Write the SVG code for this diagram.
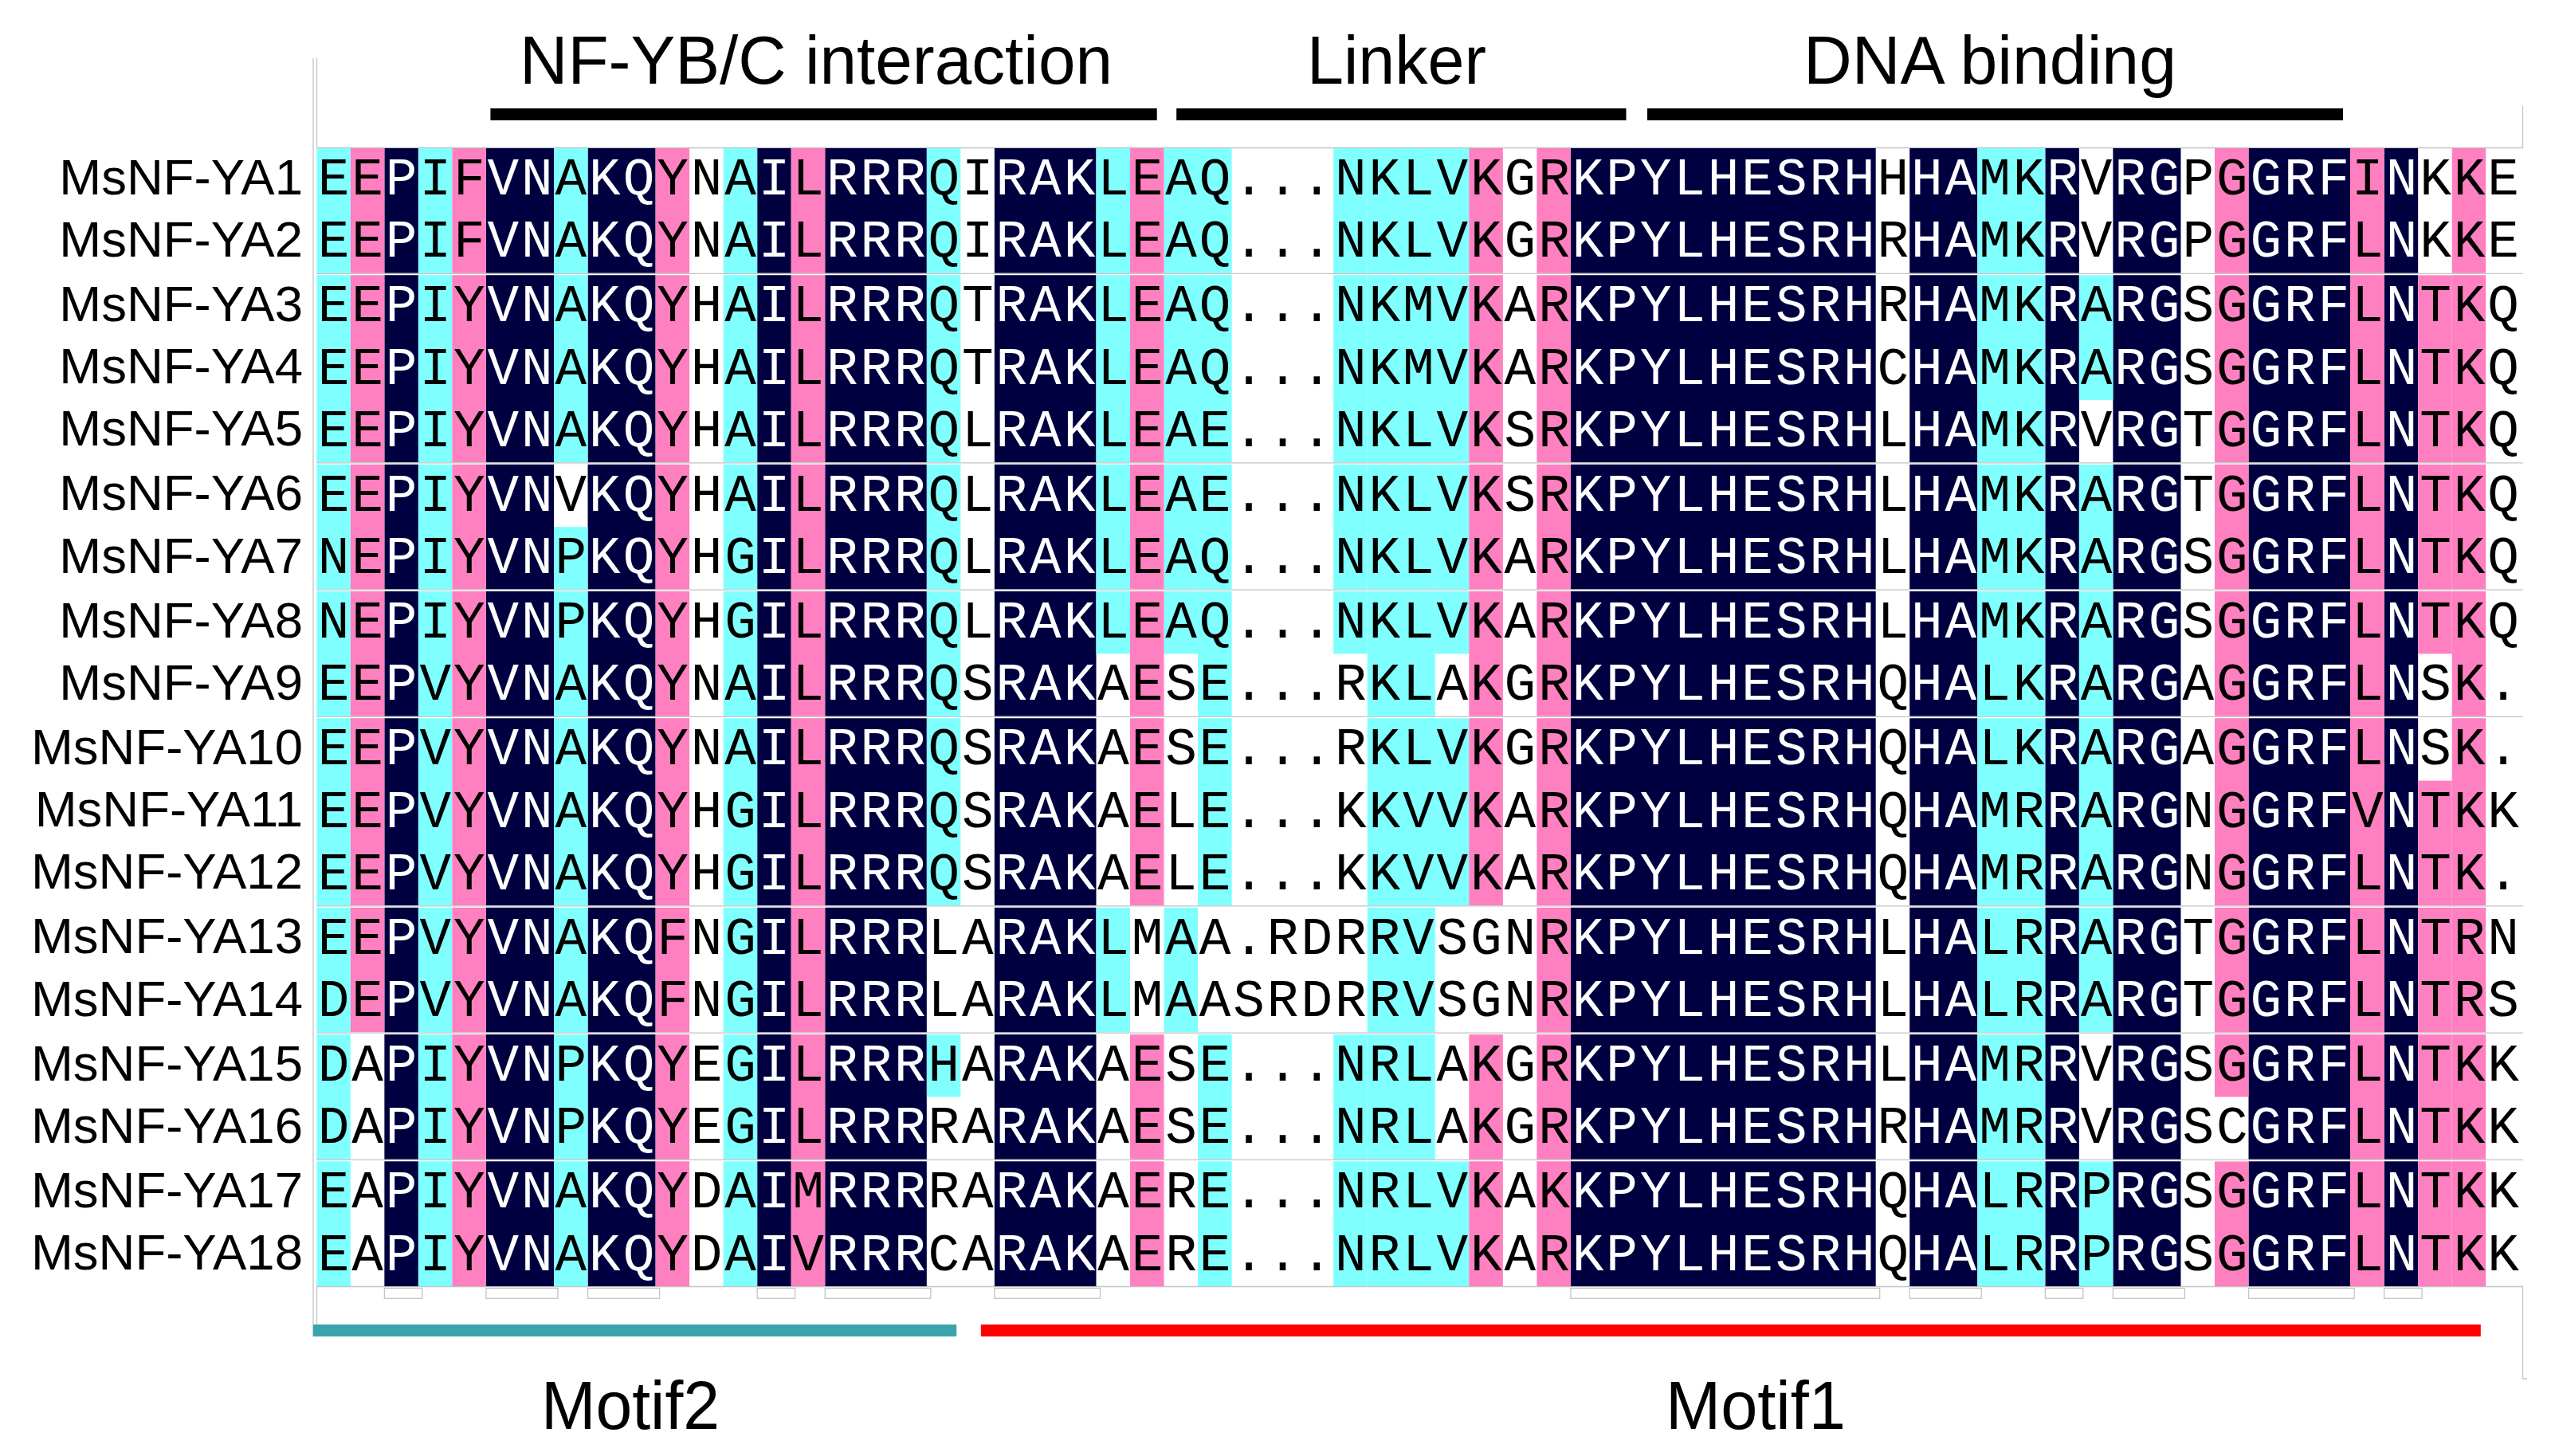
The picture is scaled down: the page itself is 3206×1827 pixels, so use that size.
<svg xmlns="http://www.w3.org/2000/svg" width="3206" height="1827" viewBox="0 0 3206 1827">
<style>
.n{fill:#000040}.c{fill:#80ffff}.p{fill:#ff80c0}
.seq{font-family:"Liberation Mono","DejaVu Sans Mono",monospace;font-size:66px;letter-spacing:2.93px;fill:#000}
.w{fill:#fff}
.name{font-family:"Liberation Sans",Arial,sans-serif;font-size:63.5px;text-anchor:end;fill:#000}
.title{font-family:"Liberation Sans",Arial,sans-serif;font-size:85px;fill:#000}
.gl{stroke:#c4c4c4;stroke-width:1.3;fill:none}
.box{fill:#fff;stroke:#c4c4c4;stroke-width:1.3}
</style>
<rect width="3206" height="1827" fill="#fff"/>
<g id="frame">
<path class="gl" d="M393 73V1662M397.5 73V186M397.5 1614V1662M3165.5 133V186M3165.5 1614V1730H3171"/>
<path class="gl" d="M397 185.5H3166M397 1614.5H3166"/>
</g>
<g id="headers">
<text class="title" x="652" y="104.5" textLength="744" lengthAdjust="spacingAndGlyphs">NF-YB/C interaction</text>
<text class="title" x="1640" y="104.5" textLength="225" lengthAdjust="spacingAndGlyphs">Linker</text>
<text class="title" x="2263" y="104.5" textLength="468" lengthAdjust="spacingAndGlyphs">DNA binding</text>
<rect x="615.4" y="136" width="836.3" height="15" fill="#000"/>
<rect x="1476.2" y="136" width="564.3" height="15" fill="#000"/>
<rect x="2067" y="136" width="873" height="15" fill="#000"/>
</g>
<g id="cells">
<rect class="n" x="482.36" y="186" width="42.53" height="1428"/>
<rect class="n" x="609.95" y="186" width="85.06" height="1428"/>
<rect class="n" x="737.54" y="186" width="85.06" height="1428"/>
<rect class="n" x="950.19" y="186" width="42.53" height="1428"/>
<rect class="n" x="1035.25" y="186" width="127.59" height="1428"/>
<rect class="n" x="1247.9" y="186" width="127.59" height="1428"/>
<rect class="n" x="1970.91" y="186" width="382.77" height="1428"/>
<rect class="n" x="2396.21" y="186" width="85.06" height="1428"/>
<rect class="n" x="2566.33" y="186" width="42.53" height="1428"/>
<rect class="n" x="2651.39" y="186" width="85.06" height="1428"/>
<rect class="n" x="2821.51" y="186" width="127.59" height="1428"/>
<rect class="n" x="2991.63" y="186" width="42.53" height="1428"/>
<rect class="c" x="397.3" y="186" width="42.53" height="1428"/>
<rect class="c" x="524.89" y="186" width="42.53" height="1428"/>
<rect class="c" x="907.66" y="186" width="42.53" height="1428"/>
<rect class="c" x="1715.73" y="186" width="85.06" height="1428"/>
<rect class="c" x="2481.27" y="186" width="85.06" height="1428"/>
<rect class="c" x="695.01" y="186" width="42.53" height="396.8"/>
<rect class="c" x="695.01" y="661.16" width="42.53" height="952.84"/>
<rect class="c" x="1162.84" y="186" width="42.53" height="950.32"/>
<rect class="c" x="1162.84" y="1298.04" width="42.53" height="78.36"/>
<rect class="c" x="1375.49" y="186" width="42.53" height="634.38"/>
<rect class="c" x="1375.49" y="1138.82" width="42.53" height="156.72"/>
<rect class="c" x="1460.55" y="186" width="42.53" height="634.38"/>
<rect class="c" x="1460.55" y="1138.82" width="42.53" height="156.72"/>
<rect class="c" x="1503.08" y="186" width="42.53" height="950.32"/>
<rect class="c" x="1503.08" y="1298.04" width="42.53" height="315.96"/>
<rect class="c" x="1673.2" y="186" width="42.53" height="634.38"/>
<rect class="c" x="1673.2" y="1298.04" width="42.53" height="315.96"/>
<rect class="c" x="1800.79" y="186" width="42.53" height="634.38"/>
<rect class="c" x="1800.79" y="901.24" width="42.53" height="235.08"/>
<rect class="c" x="1800.79" y="1457.26" width="42.53" height="156.74"/>
<rect class="c" x="2608.86" y="345.22" width="42.53" height="156.72"/>
<rect class="c" x="2608.86" y="582.8" width="42.53" height="712.74"/>
<rect class="c" x="2608.86" y="1457.26" width="42.53" height="156.74"/>
<rect class="p" x="439.83" y="186" width="42.53" height="1109.54"/>
<rect class="p" x="567.42" y="186" width="42.53" height="1428"/>
<rect class="p" x="822.6" y="186" width="42.53" height="1428"/>
<rect class="p" x="992.72" y="186" width="42.53" height="1428"/>
<rect class="p" x="1418.02" y="186" width="42.53" height="950.32"/>
<rect class="p" x="1418.02" y="1298.04" width="42.53" height="315.96"/>
<rect class="p" x="1843.32" y="186" width="42.53" height="950.32"/>
<rect class="p" x="1843.32" y="1298.04" width="42.53" height="315.96"/>
<rect class="p" x="1928.38" y="186" width="42.53" height="1428"/>
<rect class="p" x="2778.98" y="186" width="42.53" height="1190.4"/>
<rect class="p" x="2778.98" y="1457.26" width="42.53" height="156.74"/>
<rect class="p" x="2949.1" y="186" width="42.53" height="1428"/>
<rect class="p" x="3034.16" y="345.22" width="42.53" height="475.16"/>
<rect class="p" x="3034.16" y="979.6" width="42.53" height="634.4"/>
<rect class="p" x="3076.69" y="186" width="42.53" height="1428"/>
</g>
<g id="separators">
<rect x="397" y="342.72" width="2769" height="2.5" fill="#fff"/>
<rect x="397" y="580.3" width="2769" height="2.5" fill="#fff"/>
<rect x="397" y="739.52" width="2769" height="2.5" fill="#fff"/>
<rect x="397" y="898.74" width="2769" height="2.5" fill="#fff"/>
<rect x="397" y="1136.32" width="2769" height="2.5" fill="#fff"/>
<rect x="397" y="1295.54" width="2769" height="2.5" fill="#fff"/>
<rect x="397" y="1454.76" width="2769" height="2.5" fill="#fff"/>
<path class="gl" d="M397 343.3H3166M397 580.9H3166M397 740.1H3166M397 899.3H3166M397 1136.9H3166M397 1296.1H3166M397 1455.3H3166"/>
</g>
<g id="names">
<text class="name" x="380" y="243.5">MsNF-YA1</text>
<text class="name" x="380" y="321.86">MsNF-YA2</text>
<text class="name" x="380" y="402.72">MsNF-YA3</text>
<text class="name" x="380" y="481.08">MsNF-YA4</text>
<text class="name" x="380" y="559.44">MsNF-YA5</text>
<text class="name" x="380" y="640.3">MsNF-YA6</text>
<text class="name" x="380" y="718.66">MsNF-YA7</text>
<text class="name" x="380" y="799.52">MsNF-YA8</text>
<text class="name" x="380" y="877.88">MsNF-YA9</text>
<text class="name" x="380" y="958.74">MsNF-YA10</text>
<text class="name" x="380" y="1037.1">MsNF-YA11</text>
<text class="name" x="380" y="1115.46">MsNF-YA12</text>
<text class="name" x="380" y="1196.32">MsNF-YA13</text>
<text class="name" x="380" y="1274.68">MsNF-YA14</text>
<text class="name" x="380" y="1355.54">MsNF-YA15</text>
<text class="name" x="380" y="1433.9">MsNF-YA16</text>
<text class="name" x="380" y="1514.76">MsNF-YA17</text>
<text class="name" x="380" y="1593.12">MsNF-YA18</text>
</g>
<g id="sequences">
<text class="seq" x="398.77" y="244">EE<tspan class="w">P</tspan>IF<tspan class="w">VN</tspan>A<tspan class="w">KQ</tspan>YNA<tspan class="w">I</tspan>L<tspan class="w">RRR</tspan>QI<tspan class="w">RAK</tspan>LEAQ...NKLVKGR<tspan class="w">KPYLHESRH</tspan>H<tspan class="w">HA</tspan>MK<tspan class="w">R</tspan>V<tspan class="w">RG</tspan>PG<tspan class="w">GRF</tspan>I<tspan class="w">N</tspan>KKE</text>
<text class="seq" x="398.77" y="322.36">EE<tspan class="w">P</tspan>IF<tspan class="w">VN</tspan>A<tspan class="w">KQ</tspan>YNA<tspan class="w">I</tspan>L<tspan class="w">RRR</tspan>QI<tspan class="w">RAK</tspan>LEAQ...NKLVKGR<tspan class="w">KPYLHESRH</tspan>R<tspan class="w">HA</tspan>MK<tspan class="w">R</tspan>V<tspan class="w">RG</tspan>PG<tspan class="w">GRF</tspan>L<tspan class="w">N</tspan>KKE</text>
<text class="seq" x="398.77" y="403.22">EE<tspan class="w">P</tspan>IY<tspan class="w">VN</tspan>A<tspan class="w">KQ</tspan>YHA<tspan class="w">I</tspan>L<tspan class="w">RRR</tspan>QT<tspan class="w">RAK</tspan>LEAQ...NKMVKAR<tspan class="w">KPYLHESRH</tspan>R<tspan class="w">HA</tspan>MK<tspan class="w">R</tspan>A<tspan class="w">RG</tspan>SG<tspan class="w">GRF</tspan>L<tspan class="w">N</tspan>TKQ</text>
<text class="seq" x="398.77" y="481.58">EE<tspan class="w">P</tspan>IY<tspan class="w">VN</tspan>A<tspan class="w">KQ</tspan>YHA<tspan class="w">I</tspan>L<tspan class="w">RRR</tspan>QT<tspan class="w">RAK</tspan>LEAQ...NKMVKAR<tspan class="w">KPYLHESRH</tspan>C<tspan class="w">HA</tspan>MK<tspan class="w">R</tspan>A<tspan class="w">RG</tspan>SG<tspan class="w">GRF</tspan>L<tspan class="w">N</tspan>TKQ</text>
<text class="seq" x="398.77" y="559.94">EE<tspan class="w">P</tspan>IY<tspan class="w">VN</tspan>A<tspan class="w">KQ</tspan>YHA<tspan class="w">I</tspan>L<tspan class="w">RRR</tspan>QL<tspan class="w">RAK</tspan>LEAE...NKLVKSR<tspan class="w">KPYLHESRH</tspan>L<tspan class="w">HA</tspan>MK<tspan class="w">R</tspan>V<tspan class="w">RG</tspan>TG<tspan class="w">GRF</tspan>L<tspan class="w">N</tspan>TKQ</text>
<text class="seq" x="398.77" y="640.8">EE<tspan class="w">P</tspan>IY<tspan class="w">VN</tspan>V<tspan class="w">KQ</tspan>YHA<tspan class="w">I</tspan>L<tspan class="w">RRR</tspan>QL<tspan class="w">RAK</tspan>LEAE...NKLVKSR<tspan class="w">KPYLHESRH</tspan>L<tspan class="w">HA</tspan>MK<tspan class="w">R</tspan>A<tspan class="w">RG</tspan>TG<tspan class="w">GRF</tspan>L<tspan class="w">N</tspan>TKQ</text>
<text class="seq" x="398.77" y="719.16">NE<tspan class="w">P</tspan>IY<tspan class="w">VN</tspan>P<tspan class="w">KQ</tspan>YHG<tspan class="w">I</tspan>L<tspan class="w">RRR</tspan>QL<tspan class="w">RAK</tspan>LEAQ...NKLVKAR<tspan class="w">KPYLHESRH</tspan>L<tspan class="w">HA</tspan>MK<tspan class="w">R</tspan>A<tspan class="w">RG</tspan>SG<tspan class="w">GRF</tspan>L<tspan class="w">N</tspan>TKQ</text>
<text class="seq" x="398.77" y="800.02">NE<tspan class="w">P</tspan>IY<tspan class="w">VN</tspan>P<tspan class="w">KQ</tspan>YHG<tspan class="w">I</tspan>L<tspan class="w">RRR</tspan>QL<tspan class="w">RAK</tspan>LEAQ...NKLVKAR<tspan class="w">KPYLHESRH</tspan>L<tspan class="w">HA</tspan>MK<tspan class="w">R</tspan>A<tspan class="w">RG</tspan>SG<tspan class="w">GRF</tspan>L<tspan class="w">N</tspan>TKQ</text>
<text class="seq" x="398.77" y="878.38">EE<tspan class="w">P</tspan>VY<tspan class="w">VN</tspan>A<tspan class="w">KQ</tspan>YNA<tspan class="w">I</tspan>L<tspan class="w">RRR</tspan>QS<tspan class="w">RAK</tspan>AESE...RKLAKGR<tspan class="w">KPYLHESRH</tspan>Q<tspan class="w">HA</tspan>LK<tspan class="w">R</tspan>A<tspan class="w">RG</tspan>AG<tspan class="w">GRF</tspan>L<tspan class="w">N</tspan>SK.</text>
<text class="seq" x="398.77" y="959.24">EE<tspan class="w">P</tspan>VY<tspan class="w">VN</tspan>A<tspan class="w">KQ</tspan>YNA<tspan class="w">I</tspan>L<tspan class="w">RRR</tspan>QS<tspan class="w">RAK</tspan>AESE...RKLVKGR<tspan class="w">KPYLHESRH</tspan>Q<tspan class="w">HA</tspan>LK<tspan class="w">R</tspan>A<tspan class="w">RG</tspan>AG<tspan class="w">GRF</tspan>L<tspan class="w">N</tspan>SK.</text>
<text class="seq" x="398.77" y="1037.6">EE<tspan class="w">P</tspan>VY<tspan class="w">VN</tspan>A<tspan class="w">KQ</tspan>YHG<tspan class="w">I</tspan>L<tspan class="w">RRR</tspan>QS<tspan class="w">RAK</tspan>AELE...KKVVKAR<tspan class="w">KPYLHESRH</tspan>Q<tspan class="w">HA</tspan>MR<tspan class="w">R</tspan>A<tspan class="w">RG</tspan>NG<tspan class="w">GRF</tspan>V<tspan class="w">N</tspan>TKK</text>
<text class="seq" x="398.77" y="1115.96">EE<tspan class="w">P</tspan>VY<tspan class="w">VN</tspan>A<tspan class="w">KQ</tspan>YHG<tspan class="w">I</tspan>L<tspan class="w">RRR</tspan>QS<tspan class="w">RAK</tspan>AELE...KKVVKAR<tspan class="w">KPYLHESRH</tspan>Q<tspan class="w">HA</tspan>MR<tspan class="w">R</tspan>A<tspan class="w">RG</tspan>NG<tspan class="w">GRF</tspan>L<tspan class="w">N</tspan>TK.</text>
<text class="seq" x="398.77" y="1196.82">EE<tspan class="w">P</tspan>VY<tspan class="w">VN</tspan>A<tspan class="w">KQ</tspan>FNG<tspan class="w">I</tspan>L<tspan class="w">RRR</tspan>LA<tspan class="w">RAK</tspan>LMAA.RDRRVSGNR<tspan class="w">KPYLHESRH</tspan>L<tspan class="w">HA</tspan>LR<tspan class="w">R</tspan>A<tspan class="w">RG</tspan>TG<tspan class="w">GRF</tspan>L<tspan class="w">N</tspan>TRN</text>
<text class="seq" x="398.77" y="1275.18">DE<tspan class="w">P</tspan>VY<tspan class="w">VN</tspan>A<tspan class="w">KQ</tspan>FNG<tspan class="w">I</tspan>L<tspan class="w">RRR</tspan>LA<tspan class="w">RAK</tspan>LMAASRDRRVSGNR<tspan class="w">KPYLHESRH</tspan>L<tspan class="w">HA</tspan>LR<tspan class="w">R</tspan>A<tspan class="w">RG</tspan>TG<tspan class="w">GRF</tspan>L<tspan class="w">N</tspan>TRS</text>
<text class="seq" x="398.77" y="1356.04">DA<tspan class="w">P</tspan>IY<tspan class="w">VN</tspan>P<tspan class="w">KQ</tspan>YEG<tspan class="w">I</tspan>L<tspan class="w">RRR</tspan>HA<tspan class="w">RAK</tspan>AESE...NRLAKGR<tspan class="w">KPYLHESRH</tspan>L<tspan class="w">HA</tspan>MR<tspan class="w">R</tspan>V<tspan class="w">RG</tspan>SG<tspan class="w">GRF</tspan>L<tspan class="w">N</tspan>TKK</text>
<text class="seq" x="398.77" y="1434.4">DA<tspan class="w">P</tspan>IY<tspan class="w">VN</tspan>P<tspan class="w">KQ</tspan>YEG<tspan class="w">I</tspan>L<tspan class="w">RRR</tspan>RA<tspan class="w">RAK</tspan>AESE...NRLAKGR<tspan class="w">KPYLHESRH</tspan>R<tspan class="w">HA</tspan>MR<tspan class="w">R</tspan>V<tspan class="w">RG</tspan>SC<tspan class="w">GRF</tspan>L<tspan class="w">N</tspan>TKK</text>
<text class="seq" x="398.77" y="1515.26">EA<tspan class="w">P</tspan>IY<tspan class="w">VN</tspan>A<tspan class="w">KQ</tspan>YDA<tspan class="w">I</tspan>M<tspan class="w">RRR</tspan>RA<tspan class="w">RAK</tspan>AERE...NRLVKAK<tspan class="w">KPYLHESRH</tspan>Q<tspan class="w">HA</tspan>LR<tspan class="w">R</tspan>P<tspan class="w">RG</tspan>SG<tspan class="w">GRF</tspan>L<tspan class="w">N</tspan>TKK</text>
<text class="seq" x="398.77" y="1593.62">EA<tspan class="w">P</tspan>IY<tspan class="w">VN</tspan>A<tspan class="w">KQ</tspan>YDA<tspan class="w">I</tspan>V<tspan class="w">RRR</tspan>CA<tspan class="w">RAK</tspan>AERE...NRLVKAR<tspan class="w">KPYLHESRH</tspan>Q<tspan class="w">HA</tspan>LR<tspan class="w">R</tspan>P<tspan class="w">RG</tspan>SG<tspan class="w">GRF</tspan>L<tspan class="w">N</tspan>TKK</text>
</g>
<g id="conservation">
<rect class="box" x="482.36" y="1616.5" width="47.5" height="12.8"/>
<rect class="box" x="609.95" y="1616.5" width="90" height="12.8"/>
<rect class="box" x="737.54" y="1616.5" width="90" height="12.8"/>
<rect class="box" x="950.19" y="1616.5" width="47.5" height="12.8"/>
<rect class="box" x="1035.25" y="1616.5" width="132.6" height="12.8"/>
<rect class="box" x="1247.9" y="1616.5" width="132.6" height="12.8"/>
<rect class="box" x="1970.91" y="1616.5" width="387.8" height="12.8"/>
<rect class="box" x="2396.21" y="1616.5" width="90" height="12.8"/>
<rect class="box" x="2566.33" y="1616.5" width="47.5" height="12.8"/>
<rect class="box" x="2651.39" y="1616.5" width="90" height="12.8"/>
<rect class="box" x="2821.51" y="1616.5" width="132.6" height="12.8"/>
<rect class="box" x="2991.63" y="1616.5" width="47.5" height="12.8"/>
</g>
<g id="motifs">
<rect x="392.6" y="1662" width="807.6" height="15" fill="#3aa3ac"/>
<rect x="1230.8" y="1662" width="1882" height="15" fill="#ff0000"/>
<text class="title" x="679" y="1793" textLength="224" lengthAdjust="spacingAndGlyphs">Motif2</text>
<text class="title" x="2090" y="1793" textLength="226" lengthAdjust="spacingAndGlyphs">Motif1</text>
</g>
</svg>
